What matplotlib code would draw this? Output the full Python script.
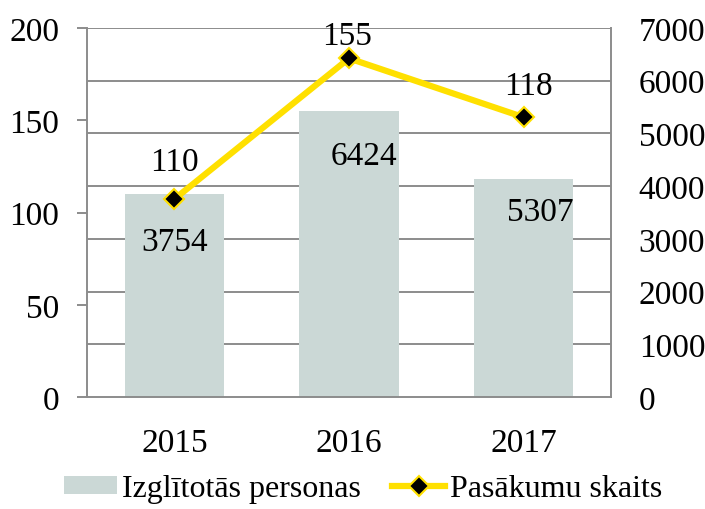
import numpy as np
import matplotlib.pyplot as plt

years = ["2015", "2016", "2017"]
persons = [110, 155, 118]          # left axis, bars
events = [3754, 6424, 5307]        # right axis, line
left_ticks = [0, 50, 100, 150, 200]
right_ticks = [0, 1000, 2000, 3000, 4000, 5000, 6000, 7000]

plt.rcParams['font.family'] = ['Liberation Serif', 'DejaVu Serif']
plt.rcParams['font.size'] = 24

fig = plt.figure(figsize=(7.05, 5.10), dpi=100)
ax = fig.add_axes([87/705, 1-398/510, 524/705, 369/510])
ax2 = ax.twinx()

x = np.arange(len(years))
grid_col = "#8c8c8c"

ax2.set_ylim(0, 7000)
ax2.set_yticks(right_ticks)
for v in right_ticks[1:]:
    ax.axhline(v / 7000 * 200, color=grid_col, lw=1.4, zorder=0)

ax.bar(x, persons, width=0.57, color="#cbd8d6", zorder=1, label="Izglītotās personas")
ax.set_xlim(-0.5, 2.5)
ax.set_ylim(0, 200)
ax.set_yticks(left_ticks)
ax.set_xticks(x)
ax.set_xticklabels(years)
ax.tick_params(axis='x', length=0, pad=22)
ax.tick_params(axis='y', length=7, width=1.4, color=grid_col, pad=13)

ax2.plot(x, events, color="#ffe000", lw=4.5, marker="D", markersize=10,
         markerfacecolor="black", markeredgecolor="#ffe000", markeredgewidth=1.5,
         label="Pasākumu skaits", zorder=3)
ax2.tick_params(axis='y', length=0, pad=20)
for lab in ax2.get_yticklabels():
    lab.set_horizontalalignment('left')

for s in ["top"]:
    ax.spines[s].set_visible(False)
    ax2.spines[s].set_visible(False)
ax2.spines["left"].set_visible(False)
ax2.spines["bottom"].set_visible(False)
ax2.spines["right"].set_visible(False)
for s in ["left", "bottom", "right"]:
    ax.spines[s].set_color(grid_col)
    ax.spines[s].set_linewidth(1.4)

# labels: persons above marker, events below marker
up_off = [(0, 37), (-2, 23), (5, 31)]
dn_off = [(0, -43), (15, -97), (17, -95)]
for i in range(len(years)):
    ax2.annotate(str(persons[i]), (x[i], events[i]), textcoords="offset pixels",
                 xytext=up_off[i], ha="center", va="center")
    ax2.annotate(str(events[i]), (x[i], events[i]), textcoords="offset pixels",
                 xytext=dn_off[i], ha="center", va="center")

h1, l1 = ax.get_legend_handles_labels()
h2, l2 = ax2.get_legend_handles_labels()
fig.legend(h1 + h2, l1 + l2, loc="lower center", bbox_to_anchor=(0.515, -0.045),
           ncol=2, frameon=False, fontsize=23, handlelength=1.65,
           handleheight=0.5, handletextpad=0.15, columnspacing=1.0)

fig.savefig("out.png", dpi=100)
